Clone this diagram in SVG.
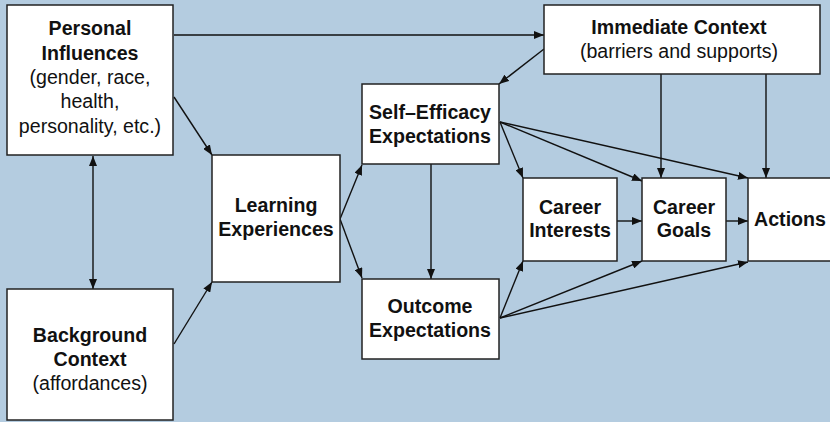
<svg xmlns="http://www.w3.org/2000/svg" width="830" height="422" viewBox="0 0 830 422">
  <defs>
    <marker id="arrow" viewBox="0 0 10 8" refX="10" refY="4" markerWidth="10" markerHeight="8" markerUnits="userSpaceOnUse" orient="auto-start-reverse">
      <path d="M0,0 L10,4 L0,8 Z" fill="#111"/>
    </marker>
  </defs>
  <style>
    .box { fill: #ffffff; stroke: #222; stroke-width: 1.5; }
    .t { font-family: "Liberation Sans", Arial, sans-serif; font-size: 19.6px; fill: #111; text-anchor: middle; }
    .b { font-weight: bold; }
    .link { fill: none; stroke: #111; stroke-width: 1.4; marker-end: url(#arrow); }
  </style>
  <rect x="0" y="0" width="830" height="422" fill="#b4cce0"/>

  <!-- connectors -->
  <g id="connectors">
    <line class="link" x1="174" y1="35" x2="544" y2="35"/>
    <line class="link" x1="174" y1="97" x2="212" y2="155"/>
    <line class="link" x1="93" y1="156" x2="93" y2="289" marker-start="url(#arrow)"/>
    <line class="link" x1="174" y1="344" x2="212" y2="282"/>
    <line class="link" x1="340" y1="219" x2="362" y2="165"/>
    <line class="link" x1="340" y1="219" x2="362" y2="278"/>
    <line class="link" x1="544" y1="49" x2="499" y2="84"/>
    <line class="link" x1="661" y1="74" x2="661" y2="178"/>
    <line class="link" x1="766" y1="74" x2="766" y2="178"/>
    <line class="link" x1="431" y1="164" x2="431" y2="279"/>
    <line class="link" x1="500" y1="122" x2="523" y2="178"/>
    <line class="link" x1="500" y1="122" x2="642" y2="181"/>
    <line class="link" x1="500" y1="122" x2="748" y2="178"/>
    <line class="link" x1="617" y1="221" x2="642" y2="221"/>
    <line class="link" x1="726" y1="221" x2="748" y2="221"/>
    <line class="link" x1="500" y1="318" x2="523" y2="261"/>
    <line class="link" x1="500" y1="318" x2="642" y2="261"/>
    <line class="link" x1="500" y1="318" x2="748" y2="262"/>
  </g>

  <g id="personal-influences">
    <rect class="box" x="7" y="5" width="166" height="150"/>
    <text class="t b" x="90" y="35">Personal</text>
    <text class="t b" x="90" y="60">Influences</text>
    <text class="t" x="90" y="84">(gender, race,</text>
    <text class="t" x="90" y="108">health,</text>
    <text class="t" x="90" y="133">personality, etc.)</text>
  </g>

  <g id="background-context">
    <rect class="box" x="7" y="289" width="166" height="131"/>
    <text class="t b" x="90" y="342">Background</text>
    <text class="t b" x="90" y="366">Context</text>
    <text class="t" x="90" y="390">(affordances)</text>
  </g>

  <g id="learning-experiences">
    <rect class="box" x="212" y="155" width="128" height="127"/>
    <text class="t b" x="276" y="212">Learning</text>
    <text class="t b" x="276" y="236">Experiences</text>
  </g>

  <g id="immediate-context">
    <rect class="box" x="544" y="5" width="276" height="69"/>
    <text class="t b" x="679" y="34">Immediate Context</text>
    <text class="t" x="679" y="58">(barriers and supports)</text>
  </g>

  <g id="self-efficacy">
    <rect class="box" x="362" y="84" width="137" height="80"/>
    <text class="t b" x="430" y="119">Self–Efficacy</text>
    <text class="t b" x="430" y="143">Expectations</text>
  </g>

  <g id="outcome-expectations">
    <rect class="box" x="362" y="279" width="137" height="80"/>
    <text class="t b" x="430" y="313">Outcome</text>
    <text class="t b" x="430" y="337">Expectations</text>
  </g>

  <g id="career-interests">
    <rect class="box" x="523" y="178" width="94" height="83"/>
    <text class="t b" x="570" y="214">Career</text>
    <text class="t b" x="570" y="237">Interests</text>
  </g>

  <g id="career-goals">
    <rect class="box" x="642" y="178" width="84" height="83"/>
    <text class="t b" x="684" y="214">Career</text>
    <text class="t b" x="684" y="237">Goals</text>
  </g>

  <g id="actions">
    <rect class="box" x="748" y="178" width="90" height="83"/>
    <text class="t b" x="790" y="226">Actions</text>
  </g>
</svg>
